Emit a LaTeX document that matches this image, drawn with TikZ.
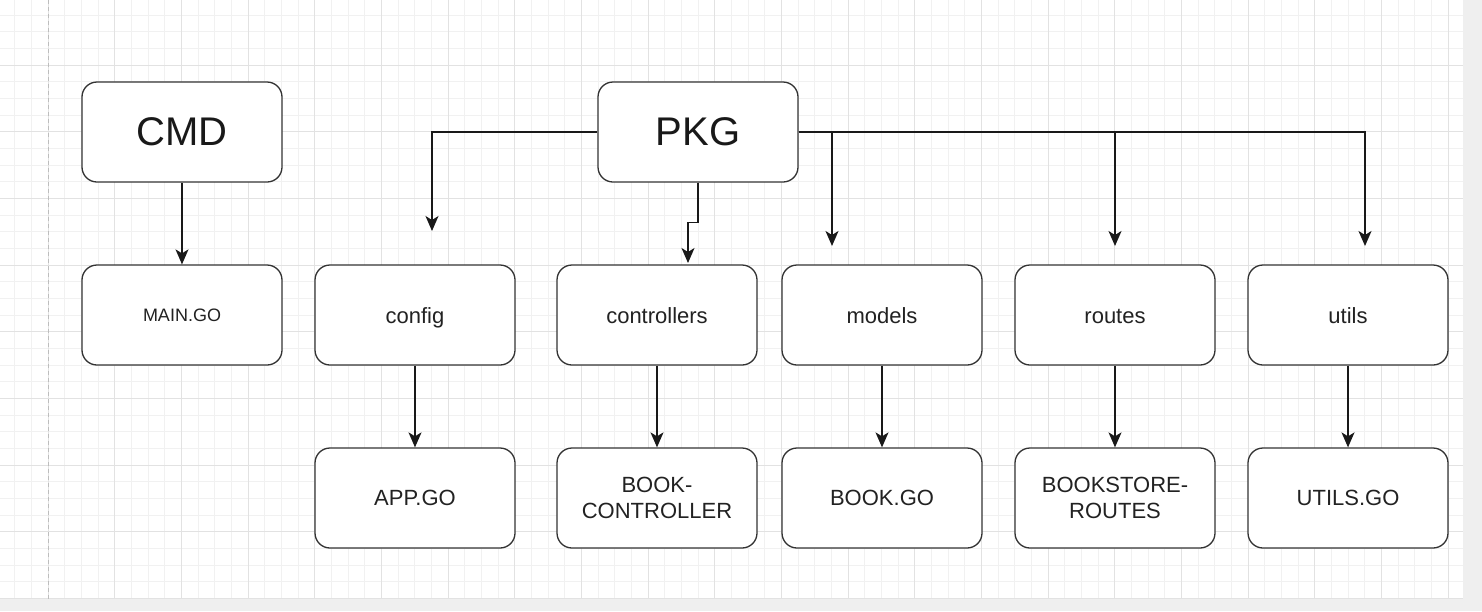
\documentclass[tikz,border=0pt]{standalone}
\usepackage{fontspec}
\setmainfont{Liberation Sans}
\usepackage{xcolor}
\usepackage{tikz}
\usetikzlibrary{arrows.meta}
\definecolor{canvas}{HTML}{FFFFFF}
\definecolor{gridminor}{HTML}{F1F1F1}
\definecolor{gridmajor}{HTML}{E2E2E2}
\definecolor{edgegray}{HTML}{EFEFEF}
\definecolor{pageline}{HTML}{BDBDBD}
\definecolor{boxline}{HTML}{333333}
\definecolor{ink}{HTML}{222222}
\tikzset{
  minorline/.style={draw=gridminor, line width=0.8pt},
  majorline/.style={draw=gridmajor, line width=1pt},
  box/.style={draw=boxline, line width=1.3pt, fill=white, rounded corners=15pt,
    minimum width=200pt, minimum height=100pt, align=center, text=ink},
  bigbox/.style={box, text=black!90, font=\fontsize{40}{48}\selectfont},
  dirbox/.style={box, text height=16pt, text depth=0pt, font=\fontsize{22}{26}\selectfont},
  filebox/.style={box, font=\fontsize{22}{26}\selectfont},
  smallbox/.style={box, font=\fontsize{18}{22}\selectfont},
  arr/.style={draw=black!90, line width=1.4pt,
    -{Stealth[length=15pt, width=13pt, inset=4pt]}}
}

\begin{document}
\begin{tikzpicture}[x=1pt, y=-1pt]
  \useasboundingbox (0,0) rectangle (1482,611);
  \fill[canvas] (0,0) rectangle (1482,611);

  % grid
  \foreach \i in {-2,...,85}
    \draw[minorline] ({48+\i*16.6667},0) -- ({48+\i*16.6667},598);
  \foreach \j in {-3,...,31}
    \draw[minorline] (0,{65+\j*16.6667}) -- (1463,{65+\j*16.6667});
  \foreach \i in {0,...,21}
    \draw[majorline] ({48+\i*66.6667},0) -- ({48+\i*66.6667},598);
  \foreach \j in {0,...,8}
    \draw[majorline] (0,{65+\j*66.6667}) -- (1463,{65+\j*66.6667});
  \fill[edgegray] (1463,0) rectangle (1482,611);
  \fill[edgegray] (0,599) rectangle (1482,611);
  \draw[pageline, line width=1pt, dash pattern=on 4pt off 3pt] (48,0) -- (48,599);

  % top level
  \node[bigbox] (cmd) at (182,132) {CMD};
  \node[bigbox] (pkg) at (698,132) {PKG};

  % packages
  \node[smallbox] (maingo) at (182,315) {MAIN.GO};
  \node[dirbox] (config) at (415,315) {config};
  \node[dirbox] (controllers) at (657,315) {controllers};
  \node[dirbox] (models) at (882,315) {models};
  \node[dirbox] (routes) at (1115,315) {routes};
  \node[dirbox] (utils) at (1348,315) {utils};

  % files
  \node[filebox] (appgo) at (415,498) {APP.GO};
  \node[filebox] (bookctl) at (657,498) {BOOK-\\CONTROLLER};
  \node[filebox] (bookgo) at (882,498) {BOOK.GO};
  \node[filebox] (storeroutes) at (1115,498) {BOOKSTORE-\\ROUTES};
  \node[filebox] (utilsgo) at (1348,498) {UTILS.GO};

  % free arrow ends below PKG
  \coordinate (configend) at (432,231);
  \coordinate (ctlend) at (688,263);
  \coordinate (modelsend) at (832,246);
  \coordinate (routesend) at (1115,246);
  \coordinate (utilsend) at (1365,246);

  \draw[arr] (pkg.west) -| (configend);
  \draw[arr] (pkg.south) -- ++(0,40) -| (ctlend);
  \draw[arr] (pkg.east) -| (modelsend);
  \draw[arr] (pkg.east) -| (routesend);
  \draw[arr] (pkg.east) -| (utilsend);

  \draw[arr] (cmd) -- (maingo);
  \draw[arr] (config) -- (appgo);
  \draw[arr] (controllers) -- (bookctl);
  \draw[arr] (models) -- (bookgo);
  \draw[arr] (routes) -- (storeroutes);
  \draw[arr] (utils) -- (utilsgo);
\end{tikzpicture}
\end{document}
